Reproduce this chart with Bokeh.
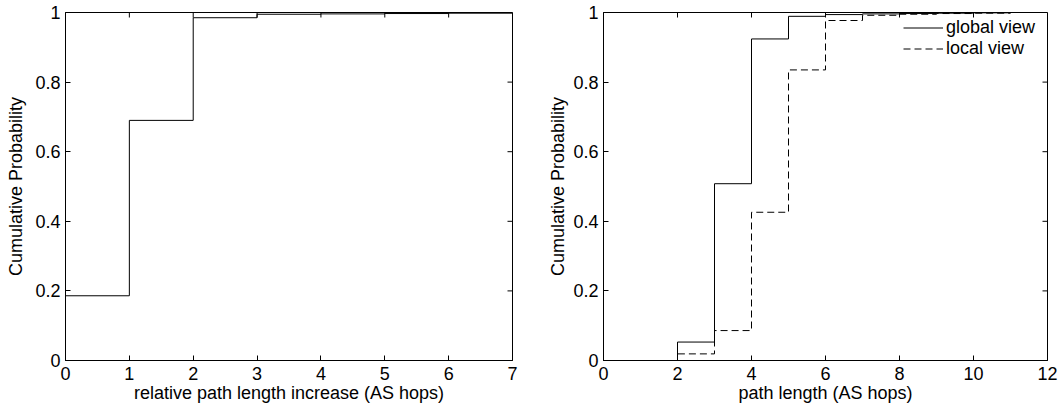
import math
from bokeh.plotting import figure
from bokeh.layouts import row
from bokeh.models import LinearAxis, FixedTicker, Legend, LegendItem, Range1d
from bokeh.embed import file_html
from bokeh.resources import INLINE

# ---------------- data ----------------
# left panel: relative path length increase (AS hops) CDF
inc_hops = [0, 1, 2, 3, 4, 5, 6, 7]
inc_cdf = [0.186, 0.690, 0.985, 0.995, 0.996, 0.997, 0.998, 0.998]

# right panel: path length (AS hops) CDFs
path_hops = [1, 2, 3, 4, 5, 6, 7, 8, 9, 10, 11]
global_cdf = [0.0, 0.053, 0.508, 0.924, 0.989, 0.994, 0.996, 0.997, 0.998, 0.999, 0.999]
local_cdf = [0.0, 0.019, 0.086, 0.426, 0.835, 0.977, 0.992, 0.995, 0.997, 0.998, 0.998]
series_names = ["global view", "local view"]

left_xticks = [0, 1, 2, 3, 4, 5, 6, 7]
left_xtick_labels = ["0", "1", "2", "3", "4", "5", "6", "7"]
right_xticks = [0, 2, 4, 6, 8, 10, 12]
right_xtick_labels = ["0", "2", "4", "6", "8", "10", "12"]
y_ticks = [0, 0.2, 0.4, 0.6, 0.8, 1]
y_tick_labels = ["0", "0.2", "0.4", "0.6", "0.8", "1"]

left_xlabel = "relative path length increase (AS hops)"
right_xlabel = "path length (AS hops)"
ylabel = "Cumulative Probability"

FONT = "Liberation Sans"
FS = "18px"


def style_axis(ax, ticks, labels, label, tick_standoff, label_standoff):
    ax.ticker = FixedTicker(ticks=ticks)
    ax.major_label_overrides = dict(zip(ticks, labels))
    ax.major_tick_in = 5
    ax.major_tick_out = 0
    ax.minor_tick_in = 0
    ax.minor_tick_out = 0
    ax.axis_line_color = "black"
    ax.major_tick_line_color = "black"
    ax.major_tick_line_width = 1
    ax.major_label_text_font = FONT
    ax.major_label_text_color = "black"
    ax.major_label_text_font_size = FS
    ax.major_label_standoff = tick_standoff
    ax.axis_label = label
    ax.axis_label_text_font = FONT
    ax.axis_label_text_font_size = FS
    ax.axis_label_text_font_style = "normal"
    ax.axis_label_text_color = "black"
    ax.axis_label_standoff = label_standoff


def make_fig(width, bl, br, bt, xr, xticks, xlabels, xlabel, y_standoff):
    p = figure(width=width, height=410, output_backend="svg", toolbar_location=None,
               x_range=Range1d(*xr), y_range=Range1d(0, 1),
               min_border_left=bl, min_border_right=br, min_border_top=bt,
               min_border_bottom=50, x_axis_location=None, y_axis_location=None)
    p.grid.visible = False
    p.outline_line_color = "black"
    p.outline_line_width = 1
    p.background_fill_color = "white"
    p.border_fill_color = "white"
    bx = LinearAxis()
    style_axis(bx, xticks, xlabels, xlabel, 6, 0)
    p.add_layout(bx, "below")
    ly = LinearAxis()
    style_axis(ly, y_ticks, y_tick_labels, ylabel, 5, y_standoff)
    p.add_layout(ly, "left")
    # mirrored inward ticks on the top and right edges of the box
    p.ray(x=xticks, y=[y_ticks[-1]] * len(xticks), length=5, length_units="screen",
          angle=-math.pi / 2, line_color="black", line_width=1)
    p.ray(x=[xr[1]] * len(y_ticks), y=y_ticks, length=5, length_units="screen",
          angle=math.pi, line_color="black", line_width=1)
    return p


p1 = make_fig(545, 65, 33, 7, (0, 7), left_xticks, left_xtick_labels, left_xlabel, 6)
p1.step(inc_hops, inc_cdf, mode="after", line_color="black", line_width=1)

p2 = make_fig(514, 57, 12, 12, (0, 12), right_xticks, right_xtick_labels, right_xlabel, 2)
r_g = p2.step(path_hops, global_cdf, mode="after", line_color="black", line_width=1)
r_l = p2.step(path_hops, local_cdf, mode="after", line_color="black", line_width=1,
              line_dash="7 4")

legend = Legend(items=[LegendItem(label=series_names[0], renderers=[r_g]),
                       LegendItem(label=series_names[1], renderers=[r_l])],
                location=(300, 301), border_line_color=None, background_fill_alpha=0,
                padding=0, spacing=-9, margin=0, glyph_width=40, glyph_height=15,
                label_height=15, label_standoff=3, label_text_font=FONT,
                label_text_font_size=FS, label_text_color="black")
p2.add_layout(legend)

layout = row(p1, p2)
open("out.html", "w").write(file_html(layout, INLINE))
